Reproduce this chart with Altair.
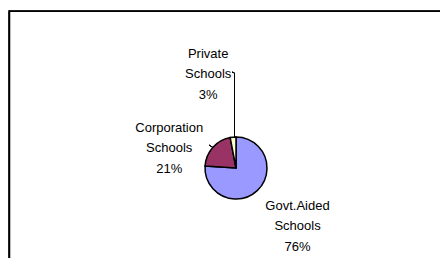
import altair as alt
import pandas as pd

# ---- data ----
categories = ["Govt.Aided Schools", "Corporation Schools", "Private Schools"]
label_line1 = ["Govt.Aided", "Corporation", "Private"]
label_line2 = ["Schools", "Schools", "Schools"]
shares = [76, 21, 3]
colors = ["#9999FF", "#993366", "#FFFFCC"]

df = pd.DataFrame({
    "category": categories,
    "share": shares,
    "idx": list(range(len(categories))),
    "label": [f"{a}\n{b}\n{s}%" for a, b, s in zip(label_line1, label_line2, shares)],
})

W, H = 432, 250
CX, CY, R = 228, 160, 31
FONT = "Liberation Sans"
LH = 20.5

theta_scale = alt.Scale(domain=[0, sum(shares)], range=[0, 6.283185307179586])

pie = alt.Chart(df).mark_arc(outerRadius=R, stroke="black", strokeWidth=1.5).encode(
    theta=alt.Theta("share:Q", stack=True, scale=theta_scale),
    order=alt.Order("idx:Q"),
    color=alt.Color("category:N", scale=alt.Scale(domain=categories, range=colors), legend=None),
    x=alt.value(CX),
    y=alt.value(CY),
)

base_lbl = alt.Chart(df).transform_window(
    cum="sum(share)", sort=[alt.SortField("idx")], frame=[None, 0]
).transform_calculate(mid="datum.cum - datum.share / 2")

# per-label placement (radius, dx, dy) like Excel's best-fit labels
placements = {
    "Govt.Aided Schools": (84, 4, -3 - LH),
    "Corporation Schools": (69, -15, 26 - LH),
    "Private Schools": (94, -19, 0 - LH),
}

label_layers = []
for cat, (rad, ddx, ddy) in placements.items():
    label_layers.append(
        base_lbl.transform_filter(alt.datum.category == cat).mark_text(
            font=FONT, fontSize=13, lineBreak="\n", lineHeight=LH,
            align="center", baseline="middle", color="black", dx=ddx, dy=ddy,
        ).encode(
            theta=alt.Theta("mid:Q", scale=theta_scale),
            radius=alt.value(rad),
            text="label:N",
            x=alt.value(CX),
            y=alt.value(CY),
        )
    )

# leader lines
leader_private = alt.Chart(df).mark_rule(color="black", strokeWidth=1).encode(
    x=alt.value(226.5), x2=alt.value(226.5), y=alt.value(65), y2=alt.value(130)
)
leader_private_hook = alt.Chart(df).mark_rule(color="black", strokeWidth=1).encode(
    x=alt.value(224), x2=alt.value(226.5), y=alt.value(64), y2=alt.value(65)
)
leader_corp = alt.Chart(df).mark_rule(color="black", strokeWidth=1).encode(
    x=alt.value(201), x2=alt.value(204.7), y=alt.value(137), y2=alt.value(139.3)
)

# slide frame
frame_top = alt.Chart(df).mark_rule(color="black", strokeWidth=1.6).encode(
    x=alt.value(1), x2=alt.value(W), y=alt.value(3.3)
)
frame_left = alt.Chart(df).mark_rule(color="black", strokeWidth=1.6).encode(
    x=alt.value(1.3), y=alt.value(2.5), y2=alt.value(H)
)

chart = alt.layer(
    frame_top, frame_left, pie, leader_private, leader_private_hook, leader_corp, *label_layers
).properties(
    width=W, height=H, padding=0, autosize=alt.AutoSizeParams(type="none"),
    background="white",
).configure_view(stroke=None)

chart.save("out.html", embed_options={"renderer": "svg", "actions": False})
